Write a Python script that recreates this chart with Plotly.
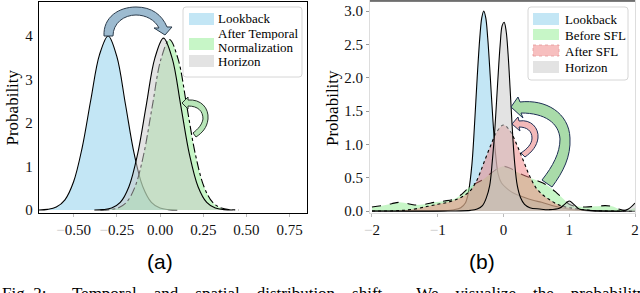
import plotly.graph_objects as go

W, H = 640, 293

# ---------------- data: panel (a) ----------------
names_a = ["Lookback", "After Temporal Normalization", "Horizon"]
lookback_a_x = [-0.70, -0.65, -0.60, -0.55, -0.50, -0.45, -0.40, -0.35, -0.30, -0.25, -0.20, -0.15, -0.10, -0.05, 0.00, 0.05, 0.10]
lookback_a_y = [0.002, 0.015, 0.068, 0.235, 0.65, 1.44, 2.54, 3.57, 4.00, 3.53, 2.43, 1.30, 0.54, 0.176, 0.044, 0.009, 0.001]
after_tn_x = [-0.345, -0.295, -0.245, -0.195, -0.145, -0.095, -0.045, 0.005, 0.055, 0.105, 0.155, 0.205, 0.255, 0.305, 0.355, 0.405, 0.455]
after_tn_y = [0.001, 0.009, 0.044, 0.173, 0.53, 1.27, 2.38, 3.46, 3.92, 3.46, 2.38, 1.27, 0.53, 0.173, 0.044, 0.009, 0.001]
horizon_a_x = [-0.38, -0.33, -0.28, -0.23, -0.18, -0.13, -0.08, -0.03, 0.02, 0.07, 0.12, 0.17, 0.22, 0.27, 0.32, 0.37, 0.42]
horizon_a_y = [0.001, 0.009, 0.044, 0.174, 0.535, 1.28, 2.40, 3.49, 3.95, 3.49, 2.40, 1.28, 0.535, 0.174, 0.044, 0.009, 0.001]
xticks_a = [-0.5, -0.25, 0.0, 0.25, 0.5, 0.75]
xticklabels_a = ["0.50", "0.25", "0.00", "0.25", "0.50", "0.75"]
yticks_a = [0, 1, 2, 3, 4]

# ---------------- data: panel (b) ----------------
names_b = ["Lookback", "Before SFL", "After SFL", "Horizon"]
lookback_b_x = [-2.0, -1.2, -0.9, -0.75, -0.65, -0.58, -0.53, -0.48, -0.44, -0.40, -0.36, -0.33, -0.30, -0.27, -0.24, -0.20, -0.16, -0.12, -0.08, -0.03, 0.05, 0.15, 0.30, 0.45, 0.58, 0.75, 0.88, 1.1, 1.4, 2.0]
lookback_b_y = [0.0, 0.0, 0.005, 0.02, 0.05, 0.12, 0.3, 0.7, 1.3, 2.0, 2.6, 2.9, 3.0, 2.9, 2.6, 2.0, 1.35, 0.85, 0.55, 0.42, 0.34, 0.27, 0.21, 0.16, 0.13, 0.08, 0.05, 0.015, 0.0, 0.0]
before_x = [-2.0, -1.85, -1.7, -1.58, -1.45, -1.35, -1.2, -1.05, -0.9, -0.75, -0.65, -0.55, -0.45, -0.33, -0.2, -0.08, 0.0, 0.1, 0.2, 0.3, 0.4, 0.5, 0.6, 0.7, 0.8, 0.9, 1.0, 1.1, 1.25, 1.4, 1.55, 1.65, 1.75, 1.85, 1.95, 2.0]
before_y = [0.06, 0.08, 0.11, 0.13, 0.11, 0.09, 0.10, 0.13, 0.15, 0.18, 0.24, 0.33, 0.40, 0.46, 0.56, 0.64, 0.67, 0.64, 0.59, 0.54, 0.50, 0.46, 0.42, 0.36, 0.28, 0.19, 0.10, 0.07, 0.06, 0.07, 0.08, 0.07, 0.03, 0.01, 0.03, 0.05]
after_x = [-2.0, -1.6, -1.35, -1.15, -1.0, -0.85, -0.7, -0.6, -0.5, -0.4, -0.3, -0.2, -0.1, 0.0, 0.1, 0.2, 0.3, 0.4, 0.5, 0.6, 0.7, 0.8, 0.9, 1.0, 1.2, 1.4, 2.0]
after_y = [0.0, 0.005, 0.03, 0.07, 0.10, 0.13, 0.18, 0.23, 0.31, 0.47, 0.72, 0.97, 1.19, 1.29, 1.20, 1.00, 0.76, 0.52, 0.34, 0.24, 0.17, 0.11, 0.07, 0.05, 0.02, 0.005, 0.0]
horizon_b_x = [-2.0, -0.8, -0.5, -0.4, -0.32, -0.26, -0.21, -0.17, -0.13, -0.09, -0.05, -0.02, 0.01, 0.04, 0.07, 0.10, 0.13, 0.17, 0.21, 0.26, 0.32, 0.4, 0.55, 0.7, 0.85, 0.93, 1.0, 1.07, 1.15, 1.3, 1.6, 1.8, 1.9, 2.0]
horizon_b_y = [0.0, 0.0, 0.01, 0.03, 0.08, 0.2, 0.38, 0.75, 1.25, 1.9, 2.5, 2.78, 2.83, 2.7, 2.35, 1.85, 1.3, 0.72, 0.38, 0.2, 0.1, 0.05, 0.03, 0.02, 0.04, 0.10, 0.15, 0.10, 0.03, 0.01, 0.0, 0.0, 0.03, 0.12]
xticks_b = [-2, -1, 0, 1, 2]
xticklabels_b = ["2", "1", "0", "1", "2"]
yticks_b = [0.0, 0.5, 1.0, 1.5, 2.0, 2.5, 3.0]

caption_words = ["Fig. 2:", "Temporal", "and", "spatial", "distribution", "shift.", "We", "visualize", "the", "probability"]

# ---------------- styles ----------------
BLUE = "rgba(135,206,235,0.5)"
GREEN = "rgba(144,238,144,0.5)"
PINK = "rgba(240,128,128,0.5)"
GRAY = "rgba(200,200,200,0.5)"
SERIF = "Liberation Serif"
SANS = "Liberation Sans"

fig = go.Figure()

def add_curve(x, y, name, fill, dash, xa, ya):
    fig.add_trace(go.Scatter(
        x=x, y=y, name=name, mode="lines", fill="tozeroy", fillcolor=fill,
        line=dict(color="black", width=1.1, dash=dash, shape="spline", smoothing=1.0),
        xaxis=xa, yaxis=ya, showlegend=False, hoverinfo="skip"))

add_curve(lookback_a_x, lookback_a_y, names_a[0], BLUE, "solid", "x", "y")
add_curve(after_tn_x, after_tn_y, names_a[1], GREEN, "dashdot", "x", "y")
add_curve(horizon_a_x, horizon_a_y, names_a[2], GRAY, "solid", "x", "y")

add_curve(lookback_b_x, lookback_b_y, names_b[0], BLUE, "solid", "x2", "y2")
add_curve(before_x, before_y, names_b[1], GREEN, "dash", "x2", "y2")
add_curve(after_x, after_y, names_b[2], PINK, "dot", "x2", "y2")
add_curve(horizon_b_x, horizon_b_y, names_b[3], GRAY, "solid", "x2", "y2")

def fmt_neg(vals, labels):
    out = []
    for v, l in zip(vals, labels):
        if v < 0:
            out.append('<span style="color:#c8c8c8">\u2212</span>' + l)
        else:
            out.append(l)
    return out

tickfont = dict(family=SERIF, size=15, color="#111111")
ybot = 1 - 212.5 / H

fig.update_layout(
    width=W, height=H, margin=dict(l=0, r=0, t=0, b=0),
    paper_bgcolor="white", plot_bgcolor="white",
    font=dict(family=SERIF),
    xaxis=dict(domain=[39 / W, 307 / W], range=[-0.70, 0.85],
               tickmode="array", tickvals=xticks_a, ticktext=fmt_neg(xticks_a, xticklabels_a),
               showline=True, mirror=True, linecolor="black", linewidth=1.2,
               showgrid=False, zeroline=False, ticks="outside", ticklen=3,
               tickcolor="#bbbbbb", tickfont=tickfont, automargin=False),
    yaxis=dict(domain=[ybot, 1 - 2 / H], range=[-0.057, 4.78],
               tickmode="array", tickvals=yticks_a, ticktext=[str(v) for v in yticks_a],
               showline=True, mirror=True, linecolor="black", linewidth=1.2,
               showgrid=False, zeroline=False, ticks="outside", ticklen=2,
               tickcolor="white", tickfont=tickfont, automargin=False),
    xaxis2=dict(domain=[370 / W, 635 / W], range=[-2.03, 2.0], anchor="y2",
                tickmode="array", tickvals=xticks_b, ticktext=fmt_neg(xticks_b, xticklabels_b),
                showline=True, mirror=True, linecolor="#dddddd", linewidth=1,
                showgrid=False, zeroline=False, ticks="outside", ticklen=3,
                tickcolor="#bbbbbb", tickfont=tickfont, automargin=False),
    yaxis2=dict(domain=[ybot, 1 - 1 / H], range=[-0.0225, 3.15], anchor="x2",
                tickmode="array", tickvals=yticks_b, ticktext=["%.1f" % v for v in yticks_b],
                showline=True, mirror=True, linecolor="#dddddd", linewidth=1,
                showgrid=False, zeroline=False, ticks="outside", ticklen=3,
                tickcolor="#999999", tickfont=tickfont, automargin=False),
)

# ---------------- helpers for decorations (pixel -> paper) ----------------
def P(px, py):
    return "%.5f,%.5f" % (px / W, 1 - py / H)

def path(spec):
    parts = []
    for cmd, pts in spec:
        if cmd == "Z":
            parts.append("Z")
        else:
            parts.append(cmd + " " + " ".join(P(x, y) for x, y in pts))
    return " ".join(parts)

def rrect(x0, y0, x1, y1, r):
    return path([
        ("M", [(x0 + r, y0)]), ("L", [(x1 - r, y0)]), ("Q", [(x1, y0), (x1, y0 + r)]),
        ("L", [(x1, y1 - r)]), ("Q", [(x1, y1), (x1 - r, y1)]),
        ("L", [(x0 + r, y1)]), ("Q", [(x0, y1), (x0, y1 - r)]),
        ("L", [(x0, y0 + r)]), ("Q", [(x0, y0), (x0 + r, y0)]), ("Z", [])])

shapes = []

def add_path(p, fill, line, lw=1.0, dash="solid"):
    shapes.append(dict(type="path", xref="paper", yref="paper", path=p,
                       fillcolor=fill, line=dict(color=line, width=lw, dash=dash), layer="above"))

def add_rect(x0, y0, x1, y1, fill, line="rgba(0,0,0,0)", lw=0, dash="solid"):
    shapes.append(dict(type="rect", xref="paper", yref="paper",
                       x0=x0 / W, x1=x1 / W, y0=1 - y1 / H, y1=1 - y0 / H,
                       fillcolor=fill, line=dict(color=line, width=lw, dash=dash), layer="above"))

# top black line of panel (b)
shapes.append(dict(type="line", xref="paper", yref="paper", x0=370 / W, x1=635 / W,
                   y0=1 - 1 / H, y1=1 - 1 / H, line=dict(color="black", width=1.2)))

# arrows panel (a)
add_path(path([("M", [(104, 36)]), ("C", [(103, 17), (119, 7), (136, 7)]),
               ("C", [(152, 7), (162, 15), (167, 27)]), ("L", [(172, 27)]), ("L", [(165, 35)]),
               ("L", [(154, 28)]), ("L", [(159, 28)]), ("C", [(155, 20), (146, 15), (136, 15)]),
               ("C", [(124, 15), (113, 23), (113, 36)]), ("Z", [])]),
         "#9dbbd0", "#2b3b4b", 1.0)
add_path(path([("M", [(188, 100)]), ("C", [(201, 99), (209, 108), (208, 119)]),
               ("C", [(207, 128), (202, 133), (196, 137)]), ("L", [(193, 133)]),
               ("C", [(198, 129), (202, 125), (203, 119)]), ("C", [(203, 111), (198, 106), (188, 106)]),
               ("L", [(188, 109)]), ("L", [(182, 103)]), ("L", [(188, 97)]), ("Z", [])]),
         "#b8e6b8", "#26322a", 1.0)

# arrows panel (b)
add_path(path([("M", [(520, 102)]), ("C", [(546, 99), (569, 113), (570, 138)]),
               ("C", [(571, 157), (563, 172), (552, 187)]), ("L", [(542, 180)]),
               ("C", [(553, 166), (560, 153), (560, 139)]), ("C", [(559, 123), (545, 113), (521, 113)]),
               ("L", [(523, 118)]), ("L", [(511, 107)]), ("L", [(518, 97)]), ("Z", [])]),
         "#a9dba9", "#1f2f55", 1.0)
add_path(path([("M", [(519, 121)]), ("C", [(531, 119), (539, 128), (538, 138)]),
               ("C", [(537, 146), (532, 152), (525, 157)]), ("L", [(521, 153)]),
               ("C", [(527, 149), (532, 144), (532, 138)]), ("C", [(532, 131), (527, 127), (519, 127)]),
               ("L", [(520, 131)]), ("L", [(512, 124)]), ("L", [(518, 117)]), ("Z", [])]),
         "#f3b9b9", "#1f2f55", 1.0)

# legends
add_path(rrect(183, 7, 302, 77, 3), "white", "#d6d6d6", 1.0)
add_rect(189, 13, 214, 25, BLUE)
add_rect(189, 38, 214, 50, GREEN)
add_rect(189, 55, 214, 67, GRAY)

add_path(rrect(528, 7, 628, 80, 3), "white", "#d6d6d6", 1.0)
add_rect(533, 13, 559, 25, BLUE)
add_rect(533, 29, 559, 40, GREEN)
add_rect(533, 45, 559, 56, PINK, "#e59a9a", 0.8, "dot")
add_rect(533, 61, 559, 73, GRAY)

fig.update_layout(shapes=shapes)

ann = []
def text(px, py, s, size=13, font=SERIF, xanchor="left", yanchor="middle", angle=0, height=None):
    d = dict(x=px / W, y=1 - py / H, xref="paper", yref="paper", text=s,
             showarrow=False, xanchor=xanchor, yanchor=yanchor, textangle=angle,
             font=dict(family=font, size=size, color="black"))
    if height:
        d["height"] = height
    ann.append(d)

text(216, 19, names_a[0], height=13)
text(216, 33, "After Temporal", height=13)
text(216, 47.5, "Normalization", height=13)
text(216, 61, names_a[2], height=12)

for nm, cy in zip(names_b, [19, 35, 51, 67]):
    text(563, cy, nm, height=14)

text(12.5, 108, "Probability", size=17, xanchor="center", angle=-90)
text(333, 108, "Probability", size=17, xanchor="center", angle=-90)

text(160, 261, "(a)", size=21, font=SANS, xanchor="center")
text(482, 261, "(b)", size=21, font=SANS, xanchor="center")

# justified caption line (cut off at the bottom edge, as in the reference)
gaps = [6, 4, 4, 4, 4, 7, 4, 4, 4]
cap = caption_words[0]
for g, w in zip(gaps, caption_words[1:]):
    cap += "&nbsp;" * g + w
text(0, 282, cap, size=17, yanchor="top")

fig.update_layout(annotations=ann)

fig.write_html("out.html",
               config={"displayModeBar": False, "staticPlot": True},
               post_script="document.body.style.margin='0';document.body.style.padding='0';"
                           "document.body.style.overflow='hidden';")
